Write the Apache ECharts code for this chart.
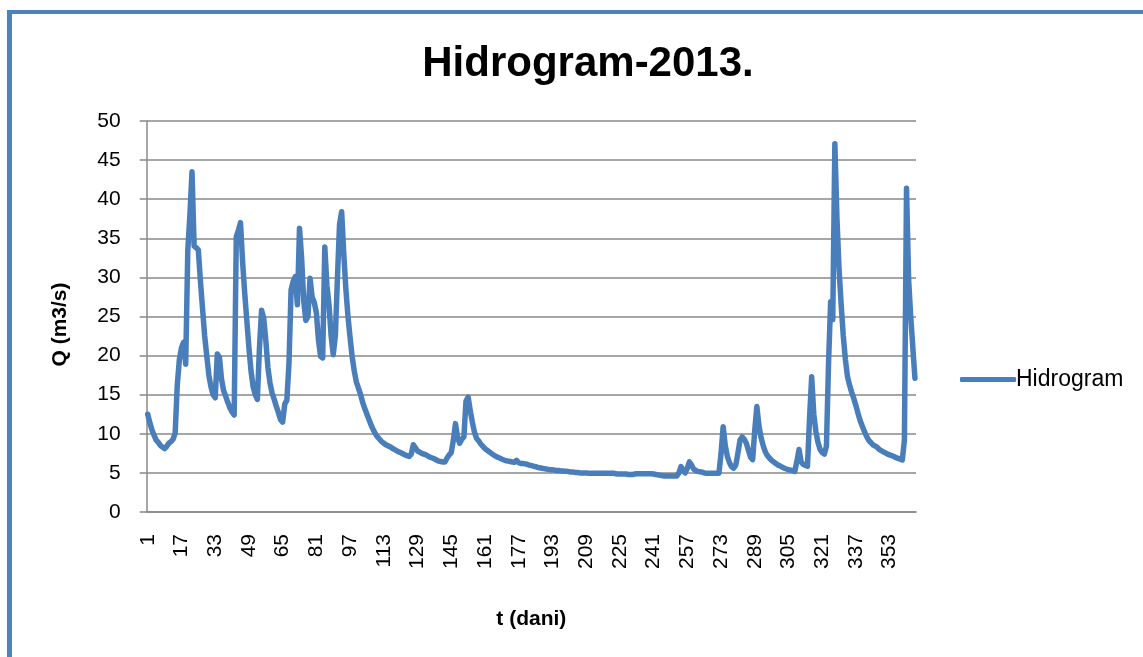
<!DOCTYPE html>
<html>
<head>
<meta charset="utf-8">
<script src="https://cdn.jsdelivr.net/npm/echarts@6/dist/echarts.min.js"></script>
<style>
  html, body { margin: 0; padding: 0; background: #fff; }
  #frame { position: absolute; left: 7px; top: 10px; width: 1143px; height: 660px;
           border-left: 5px solid #4f81bd; border-top: 4px solid #4f81bd; }
  #chart { position: absolute; left: 0; top: 0; width: 1143px; height: 657px; }
</style>
</head>
<body>
<div id="frame"></div>
<div id="chart"></div>
<script>
// protok po danima (m3/s), procitano sa grafika
const protok = [
  12.5, 11.4, 10.5, 9.8, 9.2, 8.9, 8.5, 8.3, 8.1, 8.4,
  8.8, 9.0, 9.3, 10.1, 16.2, 19.5, 21.0, 21.7, 18.9, 33.5,
  38.0, 43.5, 34.0, 33.8, 33.5, 29.5, 26.0, 22.5, 20.0, 17.5,
  16.0, 15.0, 14.6, 20.2, 19.8, 17.0, 15.5, 14.8, 14.0, 13.3,
  12.8, 12.4, 35.2, 36.0, 37.0, 32.0, 28.0, 24.5, 21.0, 18.0,
  16.0, 15.0, 14.4, 21.0, 25.8, 24.8, 22.0, 18.5, 16.5, 15.2,
  14.4, 13.5, 12.7, 11.8, 11.5, 13.8, 14.3, 19.0, 28.4, 29.5,
  30.1, 26.5, 36.3, 32.5, 27.0, 24.5, 25.0, 29.9, 27.5, 26.8,
  25.5, 22.0, 19.9, 19.7, 33.9, 29.0, 26.5, 22.5, 20.1, 22.5,
  30.0, 36.8, 38.4, 33.0, 28.5, 25.0, 22.3, 19.8, 18.0, 16.6,
  15.8, 15.0, 14.0, 13.2, 12.5, 11.8, 11.1, 10.5, 10.0, 9.6,
  9.3, 9.0, 8.8, 8.6, 8.45, 8.35, 8.15, 8.0, 7.85, 7.7,
  7.6, 7.45, 7.3, 7.2, 7.1, 7.4, 8.6, 8.2, 7.8, 7.65,
  7.5, 7.4, 7.3, 7.15, 7.0, 6.9, 6.8, 6.65, 6.5, 6.45,
  6.4, 6.4, 6.9, 7.3, 7.6, 9.2, 11.3, 9.5, 8.8, 9.3,
  9.6, 14.2, 14.7, 13.0, 11.5, 10.2, 9.4, 9.1, 8.7, 8.4,
  8.1, 7.9, 7.7, 7.5, 7.3, 7.15, 7.0, 6.9, 6.75, 6.65,
  6.55, 6.5, 6.45, 6.4, 6.35, 6.6, 6.3, 6.2, 6.2, 6.15,
  6.1, 6.0, 5.95, 5.85, 5.8, 5.7, 5.65, 5.6, 5.55, 5.5,
  5.45, 5.4, 5.4, 5.35, 5.3, 5.3, 5.25, 5.25, 5.2, 5.2,
  5.15, 5.1, 5.1, 5.05, 5.05, 5.0, 5.0, 5.0, 5.0, 4.95,
  4.95, 4.95, 4.95, 4.95, 4.95, 4.95, 4.95, 4.95, 4.95, 4.95,
  4.95, 4.95, 4.9, 4.85, 4.85, 4.85, 4.85, 4.85, 4.8, 4.8,
  4.8, 4.85, 4.9, 4.9, 4.9, 4.9, 4.9, 4.9, 4.9, 4.9,
  4.85, 4.8, 4.75, 4.7, 4.65, 4.6, 4.6, 4.6, 4.6, 4.6,
  4.6, 4.6, 5.0, 5.8, 5.3, 5.0, 5.6, 6.4, 6.0, 5.5,
  5.3, 5.2, 5.15, 5.1, 5.0, 4.95, 4.95, 4.95, 4.95, 4.95,
  4.95, 4.95, 7.5, 10.9, 8.5, 7.1, 6.3, 5.8, 5.6, 6.0,
  7.5, 9.2, 9.6, 9.3, 8.8, 7.9, 7.0, 6.7, 10.5, 13.5,
  11.0, 9.5, 8.5, 7.7, 7.2, 6.9, 6.6, 6.4, 6.2, 6.0,
  5.9, 5.75, 5.6, 5.5, 5.4, 5.35, 5.3, 5.2, 6.5, 8.0,
  6.4, 6.1, 5.95, 5.85, 12.0, 17.3, 12.5, 10.3, 8.9, 8.0,
  7.6, 7.4, 8.4, 19.0, 26.9, 24.6, 47.1, 37.5, 31.0, 26.5,
  22.5, 19.5, 17.3, 16.2, 15.3, 14.5, 13.6, 12.6, 11.7, 11.0,
  10.3, 9.7, 9.2, 8.9, 8.6, 8.45, 8.3, 8.0, 7.85, 7.7,
  7.55, 7.4, 7.3, 7.2, 7.1, 6.95, 6.85, 6.75, 6.65, 9.2,
  41.4, 29.7, 25.0, 21.0, 17.1
];
// dani 1..365
const dani = protok.map((v, i) => String(i + 1));

const lineColor = '#4a7ebb';
const gridColor = '#888888';
const font = 'Liberation Sans';

const chart = echarts.init(document.getElementById('chart'));
const option = {
  animation: false,
  backgroundColor: 'transparent',
  title: {
    text: 'Hidrogram-2013.',
    left: 583,
    textAlign: 'center',
    top: 38,
    textStyle: { fontFamily: font, fontWeight: 'bold', fontSize: 42, color: '#000' }
  },
  legend: {
    left: 955,
    top: 363,
    icon: 'roundRect',
    itemWidth: 56,
    itemHeight: 5,
    itemGap: 4,
    data: ['Hidrogram'],
    textStyle: { fontFamily: font, fontSize: 23, color: '#000', padding: [0, 0, 0, -5] }
  },
  grid: { left: 146.7, right: 227, top: 121, bottom: 145 },
  xAxis: {
    type: 'category',
    data: dani,
    boundaryGap: true,
    name: 't (dani)',
    nameLocation: 'middle',
    nameGap: 97,
    nameTextStyle: { fontFamily: font, fontWeight: 'bold', fontSize: 21, color: '#000' },
    axisLine: { lineStyle: { color: gridColor, width: 1.5 } },
    axisTick: { interval: 19, length: 7, lineStyle: { color: gridColor, width: 1.5 } },
    axisLabel: { interval: 15, rotate: 90, margin: 22, fontFamily: font, fontSize: 21, color: '#000', padding: [6, 0, 0, 0] },
    splitLine: { show: false }
  },
  yAxis: {
    type: 'value',
    min: 0,
    max: 50,
    interval: 5,
    name: 'Q (m3/s)',
    nameLocation: 'middle',
    nameRotate: 90,
    nameGap: 76,
    nameTextStyle: { fontFamily: font, fontWeight: 'bold', fontSize: 21, color: '#000', padding: [0, 16, 0, 0] },
    axisLine: { show: true, lineStyle: { color: gridColor, width: 1.5 } },
    axisTick: { show: true, length: 7, lineStyle: { color: gridColor, width: 1.5 } },
    axisLabel: { margin: 26, fontFamily: font, fontSize: 21, color: '#000' },
    splitLine: { lineStyle: { color: gridColor, width: 1.5 } }
  },
  series: [
    {
      name: 'Hidrogram',
      type: 'line',
      data: protok,
      symbol: 'none',
      lineStyle: { color: lineColor, width: 5.5, join: 'round', cap: 'round' },
      itemStyle: { color: lineColor }
    }
  ]
};
chart.setOption(option);
</script>
</body>
</html>
